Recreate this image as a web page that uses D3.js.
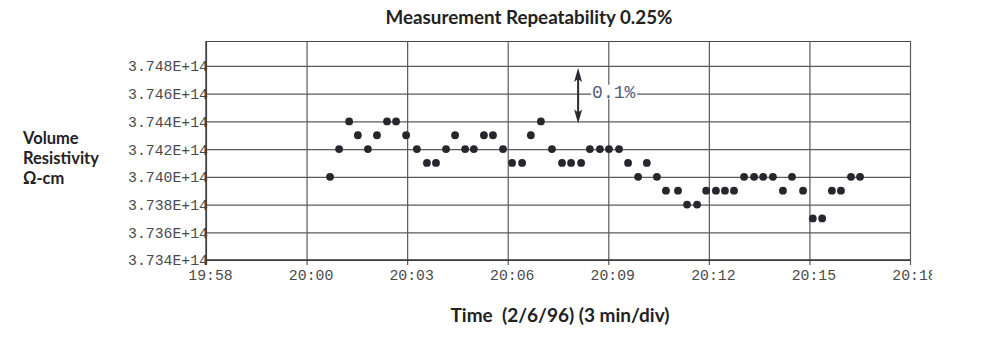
<!DOCTYPE html>
<html>
<head>
<meta charset="utf-8">
<script src="https://cdn.jsdelivr.net/npm/d3@7"></script>
<style>
  html, body { margin: 0; padding: 0; background: #fff; }
  svg { display: block; }
</style>
</head>
<body>
<script>
// ---- data ----
const xTickLabels = ["19:58", "20:00", "20:03", "20:06", "20:09", "20:12", "20:15", "20:18"];
const xTickMinutes = [0, 3, 6, 9, 12, 15, 18, 21];
const yTicks = [3.734, 3.736, 3.738, 3.740, 3.742, 3.744, 3.746, 3.748];
// minutes after the 19:58 grid line
const sampleMinutes = [3.70, 3.97, 4.27, 4.53, 4.83, 5.10, 5.40, 5.67, 5.97, 6.29,
  6.59, 6.86, 7.16, 7.43, 7.73, 7.99, 8.29, 8.56, 8.86, 9.13,
  9.43, 9.69, 9.99, 10.32, 10.62, 10.89, 11.19, 11.45, 11.75, 12.02,
  12.32, 12.59, 12.89, 13.15, 13.45, 13.72, 14.08, 14.35, 14.65, 14.92,
  15.21, 15.48, 15.75, 16.05, 16.35, 16.62, 16.91, 17.21, 17.48, 17.81,
  18.10, 18.38, 18.67, 18.94, 19.24, 19.51];
// volume resistivity, x 1E+14 ohm-cm
const resistivity = [3.740, 3.742, 3.744, 3.743, 3.742, 3.743, 3.744, 3.744, 3.743, 3.742,
  3.741, 3.741, 3.742, 3.743, 3.742, 3.742, 3.743, 3.743, 3.742, 3.741,
  3.741, 3.743, 3.744, 3.742, 3.741, 3.741, 3.741, 3.742, 3.742, 3.742,
  3.742, 3.741, 3.740, 3.741, 3.740, 3.739, 3.739, 3.738, 3.738, 3.739,
  3.739, 3.739, 3.739, 3.740, 3.740, 3.740, 3.740, 3.739, 3.740, 3.739,
  3.737, 3.737, 3.739, 3.739, 3.740, 3.740];
const annotationMinute = [11.1];
const annotationRange = [3.744, 3.748];
const annotationText = ["0.1%"];
const titleText = "Measurement Repeatability 0.25%";
const yTitleLines = ["Volume", "Resistivity", "Ω-cm"];
const xTitleText = "Time  (2/6/96) (3 min/div)";

// ---- layout ----
const W = 1003, H = 340;
const pLeft = 206, pRight = 910, pTop = 41, pBottom = 260;

const svg = d3.select("body").append("svg").attr("width", W).attr("height", H);

const x = d3.scaleLinear().domain([0, 21]).range([pLeft, pRight]);
const y = d3.scaleLinear().domain([3.734, 3.7498]).range([pBottom, pTop]);

const gridColor = "#5a5a5a";

// frame top
svg.append("line").attr("x1", pLeft).attr("x2", pRight).attr("y1", pTop + 0.5).attr("y2", pTop + 0.5)
  .attr("stroke", "#444").attr("stroke-width", 1);

// horizontal grid via axis
const yAxis = d3.axisLeft(y).tickValues(yTicks).tickSize(-(pRight - pLeft)).tickFormat(d => d.toFixed(3) + "E+14");
const gy = svg.append("g").attr("transform", `translate(${pLeft},0)`).call(yAxis);
gy.select(".domain").remove();
gy.selectAll(".tick line").attr("stroke", gridColor).attr("stroke-width", 1.2);
gy.selectAll(".tick text")
  .attr("x", 2).attr("dy", "0.33em")
  .attr("font-family", "'Liberation Mono', 'Courier New', monospace")
  .attr("font-size", "14.8px").attr("fill", "#4a4a4a");

// vertical grid via axis
const xAxis = d3.axisBottom(x).tickValues(xTickMinutes).tickSize(-(pBottom - pTop)).tickFormat((d, i) => xTickLabels[i]);
const gx = svg.append("g").attr("transform", `translate(0,${pBottom})`).call(xAxis);
gx.select(".domain").remove();
gx.selectAll(".tick line").attr("stroke", gridColor).attr("stroke-width", 1.2)
  .attr("y1", -(pBottom - pTop)).attr("y2", 5);
svg.append("clipPath").attr("id", "xclip").append("rect")
  .attr("x", 0).attr("y", -pBottom).attr("width", 932).attr("height", H + pBottom);
gx.attr("clip-path", "url(#xclip)");
gx.selectAll(".tick text")
  .attr("y", 15).attr("dy", "0.35em").attr("x", 4)
  .attr("font-family", "'Liberation Mono', 'Courier New', monospace")
  .attr("font-size", "14.8px").attr("fill", "#4a4a4a");

// left axis and bottom line darker
svg.append("line").attr("x1", pLeft).attr("x2", pLeft).attr("y1", pTop).attr("y2", pBottom + 5)
  .attr("stroke", "#333").attr("stroke-width", 1.3);
svg.append("line").attr("x1", pLeft).attr("x2", pRight).attr("y1", pBottom).attr("y2", pBottom)
  .attr("stroke", "#333").attr("stroke-width", 1.3);

// annotation
const ax = x(annotationMinute[0]);
const yTopA = y(annotationRange[1]) + 2, yBotA = y(annotationRange[0]) + 2;
const ann = svg.append("g");
ann.append("line").attr("x1", ax).attr("x2", ax).attr("y1", yTopA + 6).attr("y2", yBotA - 6)
  .attr("stroke", "#2a2a30").attr("stroke-width", 2);
ann.append("path")
  .attr("d", `M${ax},${yTopA} L${ax + 4},${yTopA + 14} L${ax},${yTopA + 11} L${ax - 4},${yTopA + 14} Z`)
  .attr("fill", "#2a2a30");
ann.append("path")
  .attr("d", `M${ax},${yBotA} L${ax + 4},${yBotA - 14} L${ax},${yBotA - 11} L${ax - 4},${yBotA - 14} Z`)
  .attr("fill", "#2a2a30");
const midY = y((annotationRange[0] + annotationRange[1]) / 2) - 2;
ann.append("rect").attr("x", ax + 13).attr("y", midY - 7).attr("width", 46).attr("height", 14).attr("fill", "#fff");
ann.append("text").attr("x", ax + 14).attr("y", midY).attr("dy", "0.35em")
  .attr("font-family", "'Liberation Mono', 'Courier New', monospace")
  .attr("font-size", "18px").attr("fill", "#4f6079").text(annotationText[0]);

// points
const pts = sampleMinutes.map((m, i) => ({ m, v: resistivity[i] }));
svg.append("g").selectAll("circle").data(pts).join("circle")
  .attr("cx", d => x(d.m)).attr("cy", d => y(d.v)).attr("r", 3.9).attr("fill", "#26262c");

// titles
const titleFont = "Lato, 'Open Sans', sans-serif";
svg.append("text").attr("x", 529).attr("y", 24).attr("text-anchor", "middle")
  .attr("font-family", titleFont).attr("font-weight", "bold").attr("font-size", "18.8px")
  .attr("fill", "#222").text(titleText);

svg.append("text").attr("x", 560).attr("y", 322).attr("text-anchor", "middle")
  .attr("font-family", titleFont).attr("font-weight", "bold").attr("font-size", "19px")
  .attr("fill", "#222").style("white-space", "pre").text(xTitleText);

svg.append("g").selectAll("text").data(yTitleLines).join("text")
  .attr("x", 23).attr("y", (d, i) => 144 + i * 20)
  .attr("font-family", titleFont).attr("font-weight", "bold")
  .attr("font-size", "16.5px").attr("fill", "#222").text(d => d);
</script>
</body>
</html>
